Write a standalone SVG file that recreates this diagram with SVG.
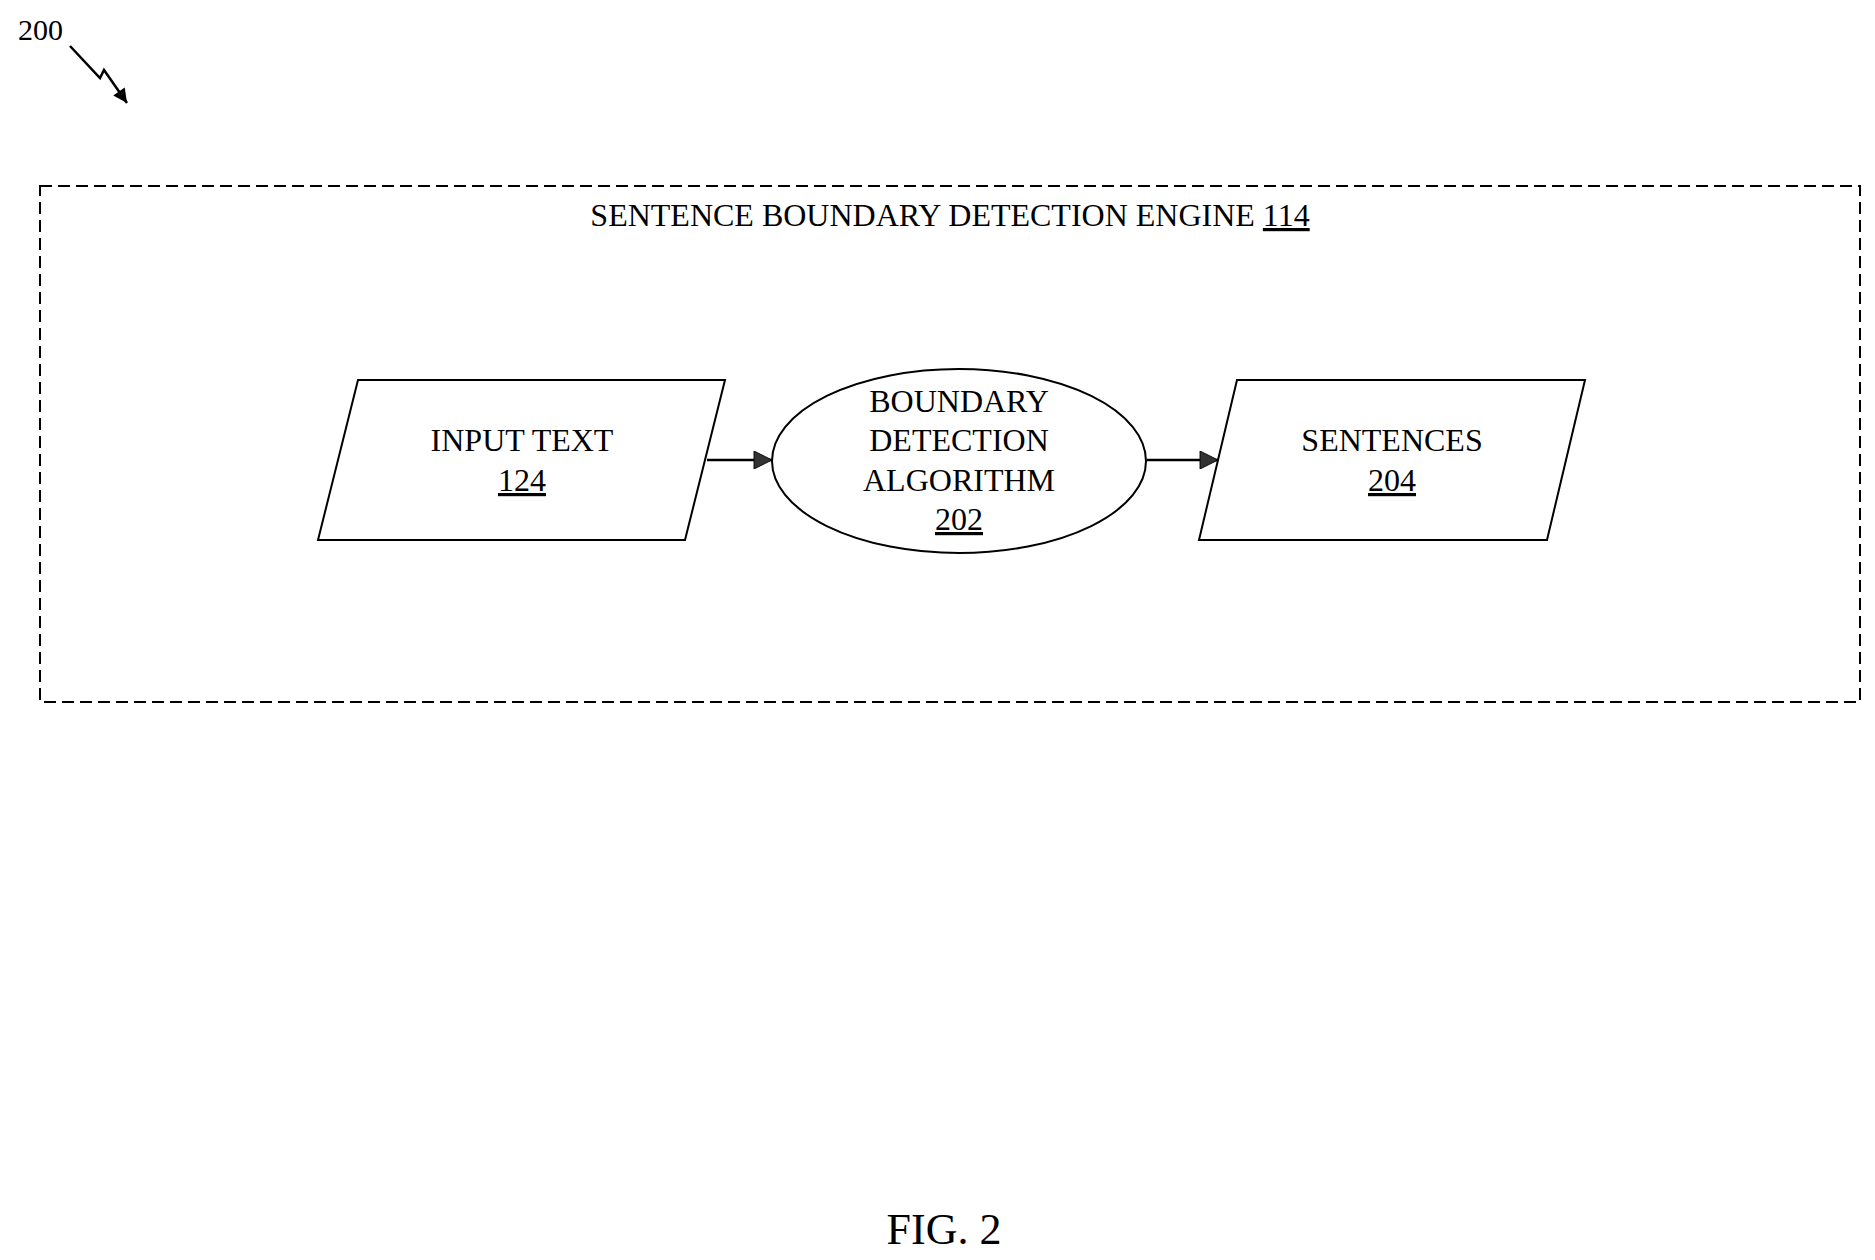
<svg xmlns="http://www.w3.org/2000/svg" width="1875" height="1260" viewBox="0 0 1875 1260">
<defs>
<style>
text{font-family:"Liberation Serif",serif;fill:#000;text-anchor:middle;font-size:32px}
.s{fill:#fff;stroke:#000;stroke-width:2}
.c{stroke:#000;stroke-width:2.5;fill:none}
</style>
<marker id="b" viewBox="0 0 10 10" refX="10" refY="5" markerWidth="28" markerHeight="18" orient="auto" markerUnits="userSpaceOnUse"><path d="M0,0L10,5L0,10z" fill="#333" stroke="#000" stroke-width="0.5"/></marker>
<marker id="z" viewBox="0 0 10 10" refX="10" refY="5" markerWidth="20" markerHeight="14" orient="auto" markerUnits="userSpaceOnUse"><path d="M0,0L10,5L0,10z" fill="#000"/></marker>
</defs>
<rect width="1875" height="1260" fill="#fff"/>
<g id="ref200">
<text x="18" y="40" style="text-anchor:start;font-size:30px">200</text>
<path d="M70,46L100,78L104,70L127,103" class="c" stroke-width="2" marker-end="url(#z)"/>
</g>
<g id="engine">
<rect x="40" y="186" width="1820" height="516" fill="none" stroke="#000" stroke-width="2" stroke-dasharray="12,6"/>
<text x="950" y="226">SENTENCE BOUNDARY DETECTION ENGINE <tspan text-decoration="underline">114</tspan></text>
</g>
<g id="input">
<path class="s" d="M358,380L725,380L685,540L318,540Z"/>
<text x="522" y="451">INPUT TEXT</text>
<text x="522" y="491" text-decoration="underline">124</text>
</g>
<g id="algo">
<ellipse class="s" cx="959" cy="461" rx="187" ry="92"/>
<text x="959" y="412">BOUNDARY</text>
<text x="959" y="451">DETECTION</text>
<text x="959" y="491">ALGORITHM</text>
<text x="959" y="530" text-decoration="underline">202</text>
</g>
<g id="sentences">
<path class="s" d="M1237,380L1585,380L1547,540L1199,540Z"/>
<text x="1392" y="451">SENTENCES</text>
<text x="1392" y="491" text-decoration="underline">204</text>
</g>
<g id="connectors">
<line x1="707" y1="460" x2="772" y2="460" class="c" marker-end="url(#b)"/>
<line x1="1147" y1="460" x2="1218" y2="460" class="c" marker-end="url(#b)"/>
</g>
<text x="944" y="1244" style="font-size:44px">FIG. 2</text>
</svg>
